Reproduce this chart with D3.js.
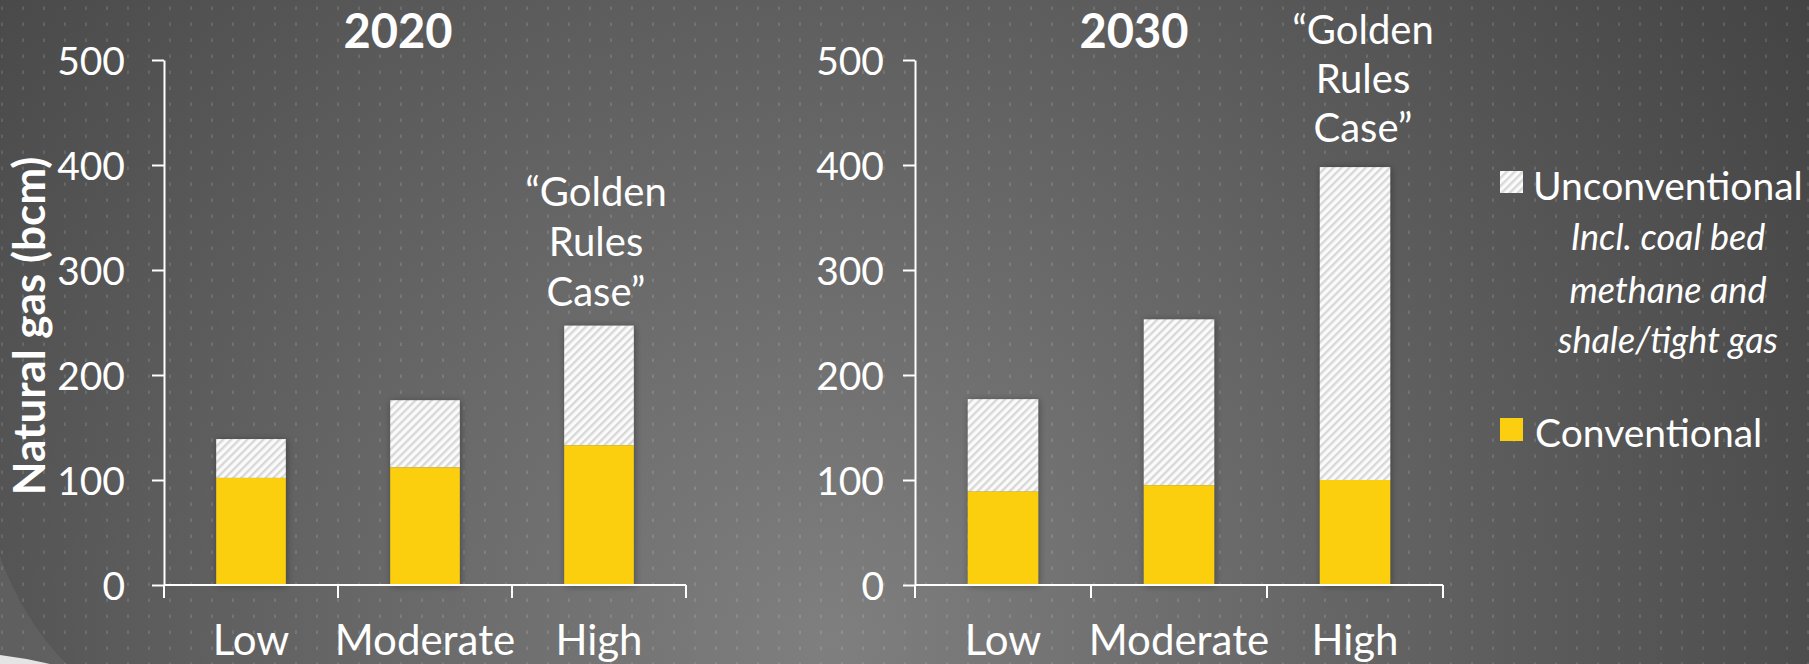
<!DOCTYPE html>
<html>
<head>
<meta charset="utf-8">
<script src="https://cdn.jsdelivr.net/npm/d3@7"></script>
<style>
  html, body { margin: 0; padding: 0; background: #5a5a5a; }
  svg { display: block; }
  text { font-family: Lato, "Open Sans", sans-serif; fill: #ffffff; }
</style>
</head>
<body>
<svg id="chart" width="1809" height="664"></svg>
<script>
// Natural gas production scenarios (bcm)
const categories = ["Low", "Moderate", "High"];
const years = ["2020", "2030"];
const conventional2020 = [102, 112, 133];
const unconventional2020 = [37, 64, 114];
const conventional2030 = [89, 95, 100];
const unconventional2030 = [88, 158, 298];
const yTicks = [0, 100, 200, 300, 400, 500];
const annotationLines = ["\u201CGolden", "Rules", "Case\u201D"];
const legendLabels = ["Unconventional", "Conventional"];
const legendNote = ["Incl. coal bed", "methane and", "shale/tight gas"];
const yAxisTitle = "Natural gas (bcm)";

const W = 1809, H = 664;
const svg = d3.select("#chart");
const defs = svg.append("defs");

// backdrop: soft radial light, dot grid
const bg = defs.append("radialGradient").attr("id", "bgGrad")
  .attr("gradientUnits", "userSpaceOnUse")
  .attr("cx", 830).attr("cy", 640).attr("r", 1200);
bg.append("stop").attr("offset", 0).attr("stop-color", "#7f7f7f");
bg.append("stop").attr("offset", 1).attr("stop-color", "#424242");

const dots = defs.append("pattern").attr("id", "dots")
  .attr("patternUnits", "userSpaceOnUse")
  .attr("x", 0).attr("y", 0).attr("width", 21).attr("height", 16);
dots.append("rect").attr("x", 1).attr("y", 6.5).attr("width", 2).attr("height", 3.5)
  .attr("fill", "rgba(255,255,255,0.12)");

const hatch = defs.append("pattern").attr("id", "hatch")
  .attr("patternUnits", "userSpaceOnUse")
  .attr("width", 5.7).attr("height", 5.7)
  .attr("patternTransform", "rotate(45)");
hatch.append("rect").attr("width", 5.7).attr("height", 5.7).attr("fill", "#fbfbfb");
hatch.append("rect").attr("width", 2.4).attr("height", 5.7).attr("fill", "#d8d8d8");

const shadow = defs.append("filter").attr("id", "barShadow")
  .attr("x", "-30%").attr("y", "-10%").attr("width", "160%").attr("height", "120%");
shadow.append("feDropShadow").attr("dx", 1).attr("dy", 1)
  .attr("stdDeviation", 3.5).attr("flood-color", "#000").attr("flood-opacity", 0.35);

svg.append("rect").attr("width", W).attr("height", H).attr("fill", "url(#bgGrad)");
svg.append("rect").attr("width", W).attr("height", H).attr("fill", "url(#dots)");

// slide corner sweep
svg.append("path").attr("d", "M0,556 Q22,618 66,664 L0,664 Z").attr("fill", "rgba(255,255,255,0.06)");
svg.append("path").attr("d", "M0,655 Q25,658 50,664 L0,664 Z").attr("fill", "#e4e4e4");

const y = d3.scaleLinear().domain([0, 500]).range([585, 60]);

const panels = [
  { year: years[0], conv: conventional2020, unconv: unconventional2020,
    range: [164, 686], labelPad: 27, titleX: 398,
    note: { dx: -3, baselines: [206, 256, 306] } },
  { year: years[1], conv: conventional2030, unconv: unconventional2030,
    range: [915, 1443], labelPad: 19, titleX: 1134,
    note: { dx: 8, baselines: [44, 93, 142] } }
];

panels.forEach(p => {
  const x = d3.scaleBand().domain(categories).range(p.range)
    .paddingInner(0.6).paddingOuter(0.3);
  const g = svg.append("g");

  // stacked bars
  const rows = categories.map((c, i) => ({ cat: c, conv: p.conv[i], unconv: p.unconv[i] }));
  const stack = d3.stack().keys(["conv", "unconv"])(rows);
  const barG = g.selectAll("g.bar").data(rows).join("g").attr("class", "bar")
    .attr("filter", "url(#barShadow)");
  barG.append("rect")
    .attr("x", d => x(d.cat)).attr("width", x.bandwidth())
    .attr("y", (d, i) => y(stack[1][i][1]))
    .attr("height", (d, i) => y(stack[1][i][0]) - y(stack[1][i][1]))
    .attr("fill", "url(#hatch)");
  barG.append("rect")
    .attr("x", d => x(d.cat)).attr("width", x.bandwidth())
    .attr("y", (d, i) => y(stack[0][i][1]))
    .attr("height", (d, i) => y(stack[0][i][0]) - y(stack[0][i][1]))
    .attr("fill", "#fbcf10");

  // y axis
  const yAxis = g.append("g").attr("transform", `translate(${p.range[0]},0)`)
    .call(d3.axisLeft(y).tickValues(yTicks).tickSize(12).tickPadding(p.labelPad).tickSizeOuter(0));
  yAxis.select(".domain").attr("stroke", "#fff").attr("stroke-width", 2);
  yAxis.selectAll(".tick line").attr("stroke", "#fff").attr("stroke-width", 2);
  yAxis.selectAll(".tick text").attr("fill", "#fff").style("font-size", "39px")
    .style("font-family", "Lato, sans-serif").attr("dy", "0.36em");

  // x axis with boundary ticks
  const step = x.step();
  const bounds = d3.range(categories.length + 1).map(i => p.range[0] + i * step);
  const xAxis = g.append("g").attr("transform", `translate(0,${y(0)})`);
  xAxis.append("line").attr("x1", p.range[0]).attr("x2", p.range[1])
    .attr("stroke", "#fff").attr("stroke-width", 2);
  xAxis.selectAll("line.b").data(bounds).join("line").attr("class", "b")
    .attr("x1", d => d).attr("x2", d => d).attr("y1", 0).attr("y2", 13)
    .attr("stroke", "#fff").attr("stroke-width", 2);
  const xLab = g.append("g").attr("transform", `translate(0,${y(0)})`)
    .call(d3.axisBottom(x).tickSize(0).tickPadding(40));
  xLab.select(".domain").remove();
  xLab.selectAll(".tick text").attr("fill", "#fff").style("font-size", "42px")
    .style("font-family", "Lato, sans-serif");

  // panel title
  svg.append("text").attr("x", p.titleX).attr("y", 48).attr("text-anchor", "middle")
    .style("font-size", "47px").style("font-weight", 700).text(p.year);

  // scenario annotation above the high case
  const cx = x("High") + x.bandwidth() / 2 + p.note.dx;
  svg.append("g").selectAll("text").data(annotationLines).join("text")
    .attr("x", cx).attr("y", (d, i) => p.note.baselines[i])
    .attr("text-anchor", "middle").style("font-size", "40px").text(d => d);
});

// y axis title
svg.append("text").attr("transform", "translate(45,326) rotate(-90)")
  .attr("text-anchor", "middle").style("font-size", "44px").style("font-weight", 700)
  .text(yAxisTitle);

// legend
const lg = svg.append("g");
lg.append("rect").attr("x", 1500).attr("y", 171).attr("width", 23).attr("height", 22)
  .attr("fill", "url(#hatch)");
lg.append("text").attr("x", 1533).attr("y", 200).style("font-size", "39px").text(legendLabels[0]);
lg.selectAll("text.note").data(legendNote).join("text").attr("class", "note")
  .attr("x", 1668).attr("y", (d, i) => [250, 303, 353][i]).attr("text-anchor", "middle")
  .style("font-size", "36px").style("font-style", "italic").text(d => d);
lg.append("rect").attr("x", 1500).attr("y", 418).attr("width", 23).attr("height", 23)
  .attr("fill", "#fbcf10");
lg.append("text").attr("x", 1535).attr("y", 447).style("font-size", "39px").text(legendLabels[1]);
</script>
</body>
</html>
